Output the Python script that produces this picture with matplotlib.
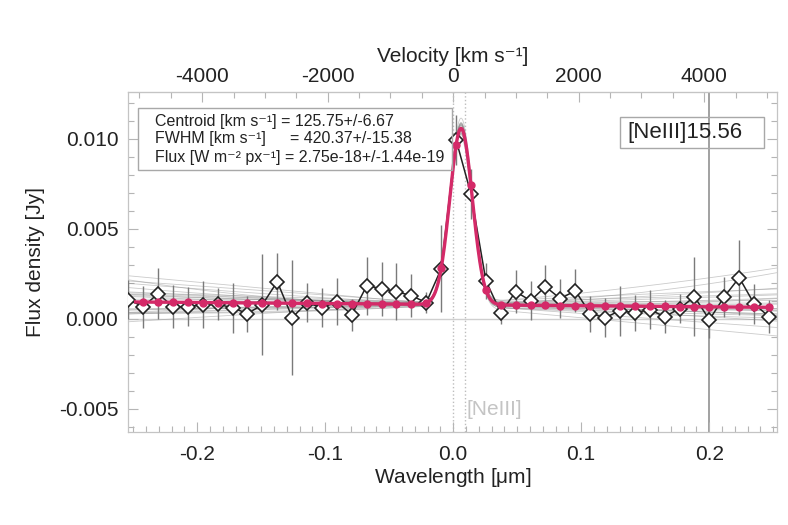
import numpy as np
import matplotlib
matplotlib.use("Agg")
import matplotlib.pyplot as plt
from matplotlib.ticker import MultipleLocator, FixedLocator, FormatStrFormatter
from matplotlib.patches import Rectangle

plt.rcParams['font.family'] = ['Liberation Sans', 'DejaVu Sans']
plt.rcParams['mathtext.fontset'] = 'custom'
plt.rcParams['mathtext.rm'] = 'Liberation Sans'
plt.rcParams['mathtext.it'] = 'Liberation Sans'
plt.rcParams['axes.unicode_minus'] = False

# ---- data ----
wavelength = [-0.2538, -0.2421, -0.2305, -0.2189, -0.2072, -0.1956, -0.1839, -0.1723,
              -0.1607, -0.1490, -0.1374, -0.1257, -0.1141, -0.1025, -0.0908, -0.0792,
              -0.0675, -0.0559, -0.0443, -0.0326, -0.0210, -0.0093, 0.0023, 0.0139,
              0.0256, 0.0372, 0.0489, 0.0605, 0.0721, 0.0838, 0.0954, 0.1071,
              0.1187, 0.1303, 0.1420, 0.1536, 0.1653, 0.1769, 0.1885, 0.2002,
              0.2118, 0.2235, 0.2351, 0.2467]
flux = [0.00106, 0.00067, 0.00139, 0.00067, 0.00067, 0.00078, 0.00080, 0.00061,
        0.00028, 0.00078, 0.00206, 0.00006, 0.00089, 0.00061, 0.00094, 0.00022,
        0.00183, 0.00167, 0.00150, 0.00128, 0.00089, 0.00278, 0.00994, 0.00694,
        0.00211, 0.00033, 0.00150, 0.00100, 0.00178, 0.00111, 0.00156, 0.00028,
        0.00006, 0.00044, 0.00033, 0.00050, 0.00011, 0.00056, 0.00122, -0.00006,
        0.00122, 0.00228, 0.00083, 0.00011]
flux_err = [0.0011, 0.00117, 0.0014, 0.0012, 0.0011, 0.0013, 0.0009, 0.0014,
            0.0010, 0.0028, 0.0016, 0.0032, 0.0011, 0.0011, 0.0013, 0.0009,
            0.0016, 0.0015, 0.0016, 0.0012, 0.0006, 0.0024, 0.0014, 0.0014,
            0.0010, 0.0006, 0.0012, 0.0011, 0.0012, 0.0011, 0.0012, 0.0010,
            0.0011, 0.0014, 0.0010, 0.0011, 0.0009, 0.0008, 0.0022, 0.0010,
            0.0011, 0.0021, 0.0011, 0.0009]

# best-fit model parameters (Gaussian + linear continuum)
fit_amp = 0.0098
fit_center = 0.0062
fit_fwhm = 0.0206
fit_cont0 = 0.00078
fit_cont1 = -0.0006

# Monte-Carlo realisations of the fit (continuum offset, slope, curvature, amplitude scale)
mc_offset = [0.00002, -0.00004, 0.00006, -0.00008, 0.00003, 0.00010, -0.00012, 0.00000,
             0.00005, -0.00006, 0.00008, -0.00002, 0.00012, -0.00010, 0.00004, -0.00003,
             0.00001, 0.00007, -0.00005, 0.00009, -0.00007, 0.00003, -0.00001, 0.00006]
mc_slope = [-0.0045, -0.0032, -0.0025, -0.0020, -0.0016, -0.0012, -0.0009, -0.0006,
            -0.0003, 0.0000, 0.0002, 0.0005, 0.0008, 0.0011, 0.0014, 0.0018,
            0.0022, 0.0027, 0.0034, 0.0042, -0.0060, 0.0055, -0.0014, 0.0010]
mc_curv = [0.000, 0.004, -0.003, 0.002, 0.000, -0.004, 0.003, 0.010,
           -0.002, 0.000, 0.006, -0.005, 0.001, 0.000, 0.024, -0.003,
           0.002, 0.000, 0.004, -0.002, 0.000, 0.012, 0.000, -0.006]
mc_ampscale = [1.00, 0.97, 1.03, 0.98, 1.02, 0.96, 1.04, 0.99, 1.01, 0.95, 1.05, 1.00,
               0.97, 1.03, 0.98, 1.02, 1.00, 0.99, 1.01, 0.96, 1.04, 1.00, 0.98, 1.02]

velocity_ticks = [-4000, -2000, 0, 2000, 4000]
vel_per_um = 20400.0   # km/s per micron offset
line_rest = 0.0094
line_marker2 = 0.0
other_line = 0.2

# ---- figure ----
fig = plt.figure(figsize=(7.88, 5.25), dpi=100)
ax = fig.add_axes([128/788, (525-432)/525, 649/788, 340/525])

wl = np.array(wavelength)
fl = np.array(flux)
er = np.array(flux_err)
sig = fit_fwhm / 2.3548

grid = np.linspace(-0.27, 0.27, 1200)
fit_grid = np.linspace(-0.248, wl[-1], 1000)

def model(x, c0, c1, c2, a, mu):
    return c0 + c1 * x + c2 * x**2 + a * np.exp(-0.5 * ((x - mu) / sig) ** 2)

# reference lines
ax.axhline(0, color='#cfcfcf', lw=1.0, zorder=1)
ax.axvline(line_marker2, color='#bdbdbd', lw=1.0, ls=':', zorder=1)
ax.axvline(line_rest, color='#bdbdbd', lw=1.0, ls=':', zorder=1)
ax.axvline(other_line, color='#9a9a9a', lw=1.3, zorder=1)

# MC bundle
for o, s, c, a in zip(mc_offset, mc_slope, mc_curv, mc_ampscale):
    ax.plot(grid, model(grid, fit_cont0 + o, fit_cont1 + s, c, fit_amp * a, fit_center),
            color='#8c8c8c', lw=0.6, alpha=0.45, zorder=2)

# error bars
ax.vlines(wl, fl - er, fl + er, color='#7a7a7a', lw=1.0, zorder=3)

# data
ax.plot(wl, fl, color='#222222', lw=1.1, marker='D', ms=7, mfc='white',
        mec='#222222', mew=1.2, zorder=4)

# best fit
pink = '#d42a68'
ax.plot(fit_grid, model(fit_grid, fit_cont0, fit_cont1, 0, fit_amp, fit_center),
        color=pink, lw=2.4, zorder=5)
ax.plot(wl[1:], model(wl[1:], fit_cont0, fit_cont1, 0, fit_amp, fit_center),
        ls='none', marker='o', ms=5, color=pink, zorder=6)

ax.set_xlim(-0.254, 0.253)
ax.set_ylim(-0.0063, 0.0126)

ax.xaxis.set_major_locator(MultipleLocator(0.1))
ax.xaxis.set_minor_locator(MultipleLocator(0.01))
ax.xaxis.set_major_formatter(FormatStrFormatter('%.1f'))
ax.yaxis.set_major_locator(MultipleLocator(0.005))
ax.yaxis.set_minor_locator(MultipleLocator(0.001))
ax.yaxis.set_major_formatter(FormatStrFormatter('%.3f'))

tick_col = '#b5b5b5'
ax.tick_params(which='both', direction='in', colors=tick_col, labelcolor='#222222',
               labelsize=15, right=True, top=False)
ax.tick_params(which='major', length=7, width=0.8)
ax.tick_params(which='minor', length=4, width=0.8)
ax.tick_params(axis='x', pad=9)
ax.tick_params(axis='y', pad=7)
for sp in ax.spines.values():
    sp.set_color('#c4c4c4')
    sp.set_linewidth(0.9)

ax.set_xlabel(r'Wavelength [$\mu$m]', fontsize=15, color='#222222', labelpad=2)
ax.set_ylabel('Flux density [Jy]', fontsize=15, color='#222222', labelpad=10)

sec = ax.secondary_xaxis('top', functions=(lambda w: w * vel_per_um,
                                           lambda v: v / vel_per_um))
sec.xaxis.set_major_locator(FixedLocator(velocity_ticks))
sec.xaxis.set_minor_locator(MultipleLocator(500))
sec.xaxis.set_major_formatter(FormatStrFormatter('%d'))
sec.tick_params(which='both', direction='in', colors=tick_col, labelcolor='#222222',
                labelsize=15, pad=4)
sec.tick_params(which='major', length=7, width=0.8)
sec.tick_params(which='minor', length=4, width=0.8)
sec.spines['top'].set_color('#c4c4c4')
sec.set_xlabel('Velocity [km s\u207b\u00b9]', fontsize=15, color='#222222', labelpad=4)

# info box
ax.add_patch(Rectangle((0.0154, 0.771), 0.4837, 0.182, transform=ax.transAxes,
                       fill=False, ec='#a8a8a8', lw=1.0, zorder=7))
info_kw = dict(transform=ax.transAxes, fontsize=11.5, color='#222222',
               va='center', ha='left', zorder=8)
ax.text(0.042, 0.914, 'Centroid [km s\u207b\u00b9] = 125.75+/-6.67', **info_kw)
ax.text(0.042, 0.862, 'FWHM [km s\u207b\u00b9]', **info_kw)
ax.text(0.250, 0.862, '= 420.37+/-15.38', **info_kw)
ax.text(0.042, 0.808, 'Flux [W m\u207b\u00b2 px\u207b\u00b9] = 2.75e-18+/-1.44e-19', **info_kw)

# line name box
ax.add_patch(Rectangle((0.758, 0.835), 0.222, 0.091, transform=ax.transAxes,
                       fill=False, ec='#a8a8a8', lw=1.0, zorder=7))
ax.text(0.769, 0.881, '[NeIII]15.56', transform=ax.transAxes, fontsize=16,
        color='#222222', va='center', ha='left', zorder=8)

ax.text(line_rest + 0.001, -0.00505, '[NeIII]', fontsize=15, color='#c4c4c4',
        va='center', ha='left', zorder=8)

fig.savefig('out.png', dpi=100)
